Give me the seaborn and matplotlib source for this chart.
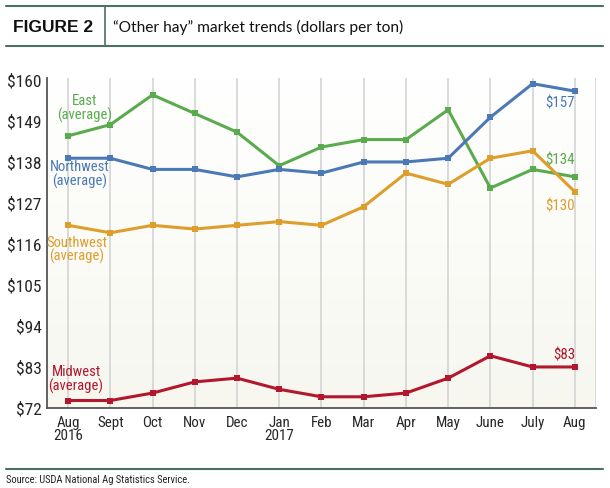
import numpy as np
import pandas as pd
import matplotlib
matplotlib.use("Agg")
import matplotlib.pyplot as plt
from matplotlib.lines import Line2D
import seaborn as sns

# =========================
# Data
# =========================
MONTHS = ["Aug\n2016", "Sept", "Oct", "Nov", "Dec", "Jan\n2017", "Feb",
          "Mar", "Apr", "May", "June", "July", "Aug"]
EAST = [145, 148, 156, 151, 146, 137, 142, 144, 144, 152, 131, 136, 134]
NORTHWEST = [139, 139, 136, 136, 134, 136, 135, 138, 138, 139, 150, 159, 157]
SOUTHWEST = [121, 119, 121, 120, 121, 122, 121, 126, 135, 132, 139, 141, 130]
MIDWEST = [74, 74, 76, 79, 80, 77, 75, 75, 76, 80, 86, 83, 83]
Y_TICKS = [72, 83, 94, 105, 116, 127, 138, 149, 160]

COLORS = {"East": "#5aab4e", "Northwest": "#4a79b5",
          "Southwest": "#dd9e2c", "Midwest": "#b3172e"}
FRAME = "#4a7164"
NARROW = ["Roboto Condensed", "Liberation Sans", "DejaVu Sans"]

df = pd.DataFrame({
    "month": np.tile(np.arange(len(MONTHS)), 4),
    "price": EAST + NORTHWEST + SOUTHWEST + MIDWEST,
    "region": np.repeat(["East", "Northwest", "Southwest", "Midwest"], len(MONTHS)),
})

sns.set_style("white")
plt.rcParams["font.family"] = NARROW

fig = plt.figure(figsize=(6.1, 4.88), dpi=100)
ax = fig.add_axes([0.077, 0.164, 0.900, 0.676])

# soft gradient background
grad = np.linspace(1, 0, 256).reshape(-1, 1)
ax.imshow(grad, extent=(-0.5, 12.5, 72, 160.5), aspect="auto",
          cmap=matplotlib.colors.LinearSegmentedColormap.from_list(
              "bg", ["#ffffff", "#f7f7f0"]), origin="lower", zorder=0)

sns.lineplot(data=df, x="month", y="price", hue="region", palette=COLORS,
             marker="s", markersize=5, markeredgewidth=0, linewidth=2.2,
             legend=False, ax=ax, zorder=3)

ax.set_xlim(-0.5, 12.5)
ax.set_ylim(72, 160.5)
ax.set_xticks(range(len(MONTHS)))
ax.set_xticklabels(MONTHS, fontsize=10.8, family=NARROW, linespacing=0.9)
ax.set_yticks(Y_TICKS)
ax.set_yticklabels([f"${v}" for v in Y_TICKS], fontsize=12.5, family=NARROW)
ax.tick_params(axis="x", length=0, pad=6)
ax.tick_params(axis="y", length=0, pad=4)
ax.set_xlabel("")
ax.set_ylabel("")
for x in range(len(MONTHS)):
    ax.axvline(x, color="#d4d4d4", linewidth=1.2, zorder=1)
ax.axvline(12.5, color="#d4d4d4", linewidth=1.2, zorder=1)

for s in ["top", "right"]:
    ax.spines[s].set_visible(False)
ax.spines["left"].set_color("#555555")
ax.spines["bottom"].set_color("#555555")
ax.spines["left"].set_linewidth(1.3)
ax.spines["bottom"].set_linewidth(1.3)

# series labels
lab = dict(fontsize=10.5, family=NARROW, ha="center", va="center", linespacing=0.95)
ax.text(0.4, 152.4, "East\n(average)", color=COLORS["East"], **lab)
ax.text(0.28, 134.7, "Northwest\n(average)", color=COLORS["Northwest"], **lab)
ax.text(0.2, 114.4, "Southwest\n(average)", color=COLORS["Southwest"], **lab)
ax.text(0.19, 79.7, "Midwest\n(average)", color=COLORS["Midwest"], **lab)

end = dict(fontsize=10.8, family=NARROW, ha="center", va="center")
ax.text(11.65, 153.7, "$157", color=COLORS["Northwest"], **end)
ax.text(11.65, 138.4, "$134", color=COLORS["East"], **end)
ax.text(11.65, 126.0, "$130", color=COLORS["Southwest"], **end)
ax.text(11.74, 86.0, "$83", color=COLORS["Midwest"], **end)

# header box
H = 488.0
W = 610.0
def fy(py):
    return 1 - py / H
def fx(px):
    return px / W

fig.add_artist(Line2D([fx(6), fx(603)], [fy(6), fy(6)], color=FRAME, lw=1.5))
fig.add_artist(Line2D([fx(6), fx(603)], [fy(46), fy(46)], color=FRAME, lw=1.5))
fig.add_artist(Line2D([fx(105), fx(105)], [fy(6), fy(46)], color=FRAME, lw=1.2))
fig.text(fx(13), fy(27), "FIGURE 2", fontsize=12.5, fontweight="bold",
         family=["Liberation Sans", "DejaVu Sans"], va="center", ha="left",
         color="#111111")
fig.text(fx(113), fy(27), "\u201cOther hay\u201d market trends (dollars per ton)",
         fontsize=11.2, family=["Lato", "DejaVu Sans"], va="center", ha="left",
         color="#111111")

# source line
fig.add_artist(Line2D([fx(6), fx(603)], [fy(469), fy(469)], color=FRAME, lw=1.5))
fig.text(fx(6), fy(480), "Source: USDA National Ag Statistics Service.",
         fontsize=7.6, family=NARROW, va="center", ha="left", color="#222222")

fig.savefig("out.png", dpi=100)
plt.close(fig)
